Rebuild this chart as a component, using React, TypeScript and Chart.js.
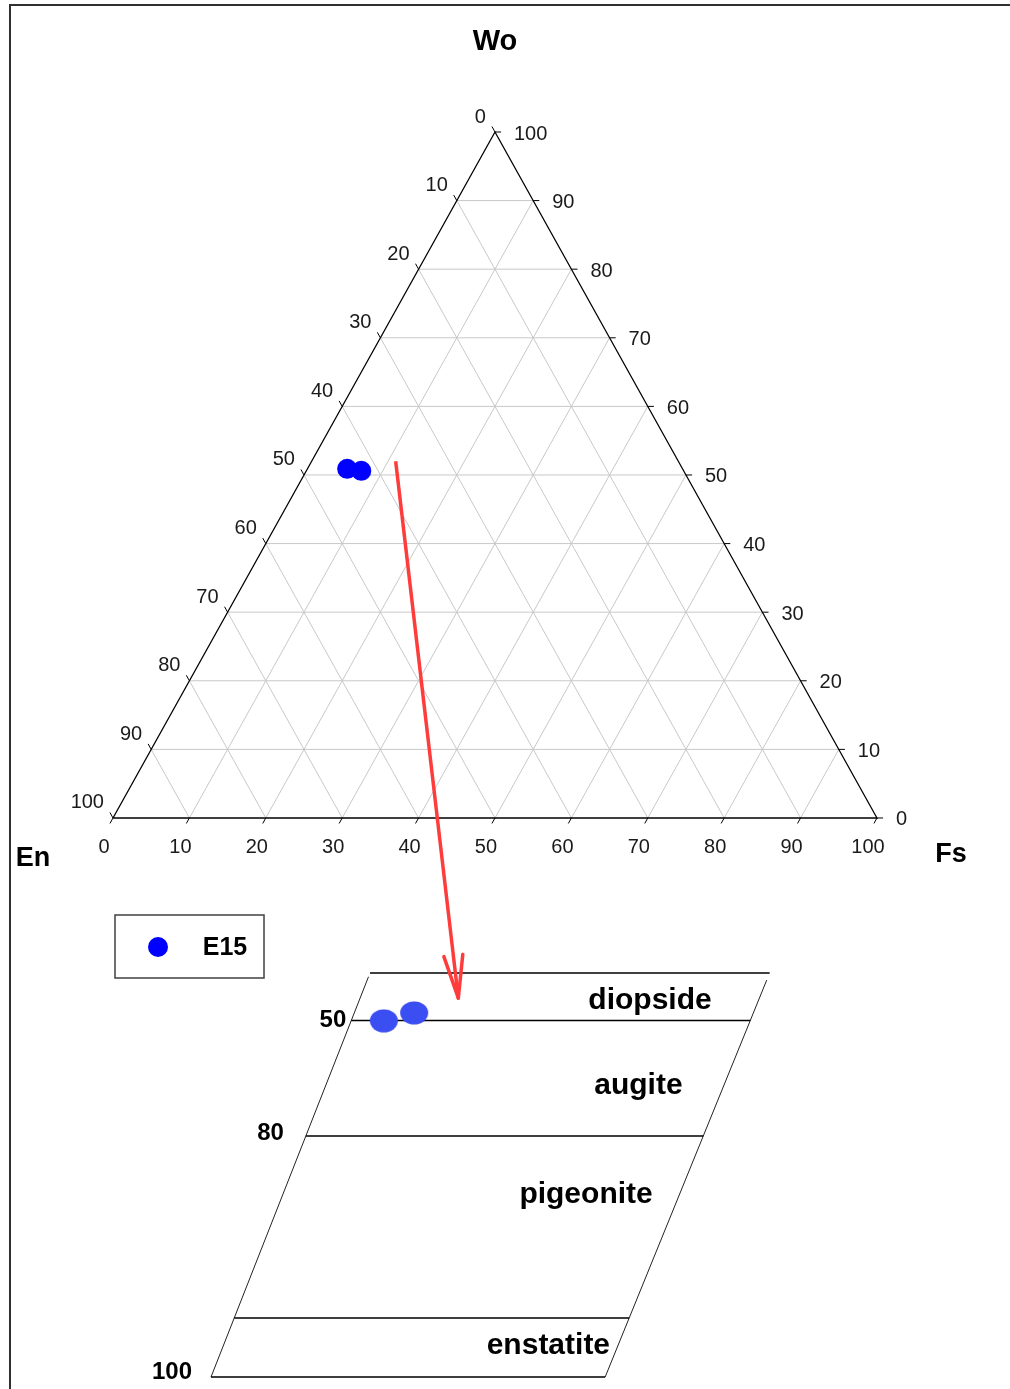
import React, { useEffect, useRef } from 'react';
import { Chart, registerables } from 'chart.js';
Chart.register(...registerables);

// ---------- data ----------
const sampleName = 'E15';
const sampleWo = [50.9, 50.6];
const sampleEn = [43.9, 42.2];
const sampleFs = [5.2, 7.2];

const tickValues = [0, 10, 20, 30, 40, 50, 60, 70, 80, 90, 100];
const gridValues = [10, 20, 30, 40, 50, 60, 70, 80, 90];
const axisTitles = ['Wo', 'En', 'Fs'];

// detail (pyroxene quadrilateral) panel
const detailLevels = [40, 50, 80, 95, 100];
const detailLevelLabels = ['', '50', '80', '', '100'];
const mineralNames = ['diopside', 'augite', 'pigeonite', 'enstatite'];
const mineralLevels = [45.5, 66.5, 84.7, 97.2];
const mineralFracs = [72.7, 78.4, 76.3, 82.2];
const detailSampleLevels = [50.1, 48.4];
const detailSampleFracs = [8.2, 15.0];

// arrow from ternary to detail panel
const arrowFrom = { wo: 52, fs: 11 };
const arrowTo = { level: 45.3, frac: 24.6 };

// ---------- layout ----------
const W = 1010;
const H = 1389;
const X_MIN = -14.79;
const X_MAX = 117.41;
const Y_MIN = -83.24;
const Y_MAX = 119.24;
const DETAIL_Y = [-22.59, -29.52, -46.36, -72.89, -81.49];
const DETAIL_LEFT = [33.64, 12.83];
const DETAIL_RIGHT = [85.95, 64.42];
const DETAIL_LABEL_GAP = [0, 5, 22, 0, 19];
const DETAIL_LABEL_DY = [0, 0, -3, 0, -5];
const FONT = '"Liberation Sans", Arial, sans-serif';

const tern = (wo: number, fs: number) => ({ x: fs + wo / 2, y: wo });

const detailY = (level: number) => {
  for (let i = 0; i < detailLevels.length - 1; i++) {
    const a = detailLevels[i], b = detailLevels[i + 1];
    if (level <= b || i === detailLevels.length - 2) {
      const t = (level - a) / (b - a);
      return DETAIL_Y[i] + (DETAIL_Y[i + 1] - DETAIL_Y[i]) * t;
    }
  }
  return DETAIL_Y[0];
};
const detailPt = (level: number, frac: number) => {
  const y = detailY(level);
  const t = (y - DETAIL_Y[0]) / (DETAIL_Y[DETAIL_Y.length - 1] - DETAIL_Y[0]);
  const l = DETAIL_LEFT[0] + (DETAIL_LEFT[1] - DETAIL_LEFT[0]) * t;
  const r = DETAIL_RIGHT[0] + (DETAIL_RIGHT[1] - DETAIL_RIGHT[0]) * t;
  return { x: l + ((r - l) * frac) / 100, y };
};

const GAP = { x: null as any, y: null as any };

export default function App() {
  const ref = useRef<HTMLCanvasElement | null>(null);

  useEffect(() => {
    document.body.style.margin = '0';
    const canvas = ref.current!;

    const grid: any[] = [];
    gridValues.forEach((v) => {
      grid.push(tern(v, 0), tern(v, 100 - v), GAP);
      grid.push(tern(0, v), tern(100 - v, v), GAP);
      grid.push(tern(0, 100 - v), tern(100 - v, 0), GAP);
    });
    const edges = [tern(0, 0), tern(0, 100), tern(100, 0), tern(0, 0)];
    const ticks: any[] = [];
    tickValues.forEach((v) => {
      const b = tern(0, v);
      ticks.push(b, { x: b.x - 0.4, y: b.y - 0.8 }, GAP);
      const l = tern(100 - v, 0);
      ticks.push(l, { x: l.x - 0.4, y: l.y + 0.8 }, GAP);
      const r = tern(v, 100 - v);
      ticks.push(r, { x: r.x + 0.8, y: r.y }, GAP);
    });
    const detailLines: any[] = [];
    detailLevels.forEach((lv) => {
      detailLines.push(detailPt(lv, 0), detailPt(lv, 100), GAP);
    });
    const first = detailLevels[0], last = detailLevels[detailLevels.length - 1];
    const detailEdges = [detailPt(first + 0.8, 0), detailPt(last, 0), GAP, detailPt(first + 1.5, 100), detailPt(last, 100)];
    const arrow = [tern(arrowFrom.wo, arrowFrom.fs), detailPt(arrowTo.level, arrowTo.frac)];
    const samples = sampleWo.map((wo, i) => tern(wo, sampleFs[i]));
    const detailSamples = detailSampleLevels.map((lv, i) => detailPt(lv, detailSampleFracs[i]));

    const ell = document.createElement('canvas');
    ell.width = 30;
    ell.height = 24;
    const ec = ell.getContext('2d')!;
    ec.fillStyle = '#3b4ef2';
    ec.beginPath();
    ec.ellipse(15, 12, 14, 11.5, 0, 0, Math.PI * 2);
    ec.fill();

    const lineDs = (data: any[], color: string, width: number, order: number) => ({
      data,
      showLine: true,
      borderColor: color,
      borderWidth: width,
      pointRadius: 0,
      pointHoverRadius: 0,
      spanGaps: false,
      fill: false,
      order,
    });

    const decor = {
      id: 'decor',
      afterDatasetsDraw(chart: any) {
        const ctx = chart.ctx;
        const xs = chart.scales.x, ys = chart.scales.y;
        const px = (p: { x: number; y: number }) => ({ x: xs.getPixelForValue(p.x), y: ys.getPixelForValue(p.y) });
        ctx.save();
        // frame
        ctx.strokeStyle = '#303030';
        ctx.lineWidth = 2;
        ctx.beginPath();
        ctx.moveTo(9, 5);
        ctx.lineTo(W, 5);
        ctx.moveTo(10, 4);
        ctx.lineTo(10, H);
        ctx.stroke();

        // arrowhead
        const meta = chart.getDatasetMeta(3);
        const a0 = meta.data[0], a1 = meta.data[1];
        const dx = a0.x - a1.x, dy = a0.y - a1.y;
        const len = Math.hypot(dx, dy);
        const ux = dx / len, uy = dy / len;
        const ang = (12.5 * Math.PI) / 180;
        ctx.strokeStyle = '#ff3c3c';
        ctx.lineWidth = 3.5;
        ctx.lineCap = 'round';
        [ang, -ang].forEach((t) => {
          const rx = ux * Math.cos(t) - uy * Math.sin(t);
          const ry = ux * Math.sin(t) + uy * Math.cos(t);
          ctx.beginPath();
          ctx.moveTo(a1.x, a1.y);
          ctx.lineTo(a1.x + rx * 44, a1.y + ry * 44);
          ctx.stroke();
        });

        // tick labels
        ctx.fillStyle = '#1a1a1a';
        ctx.font = `20px ${FONT}`;
        ctx.textBaseline = 'middle';
        tickValues.forEach((v) => {
          const b = px(tern(0, v));
          ctx.textAlign = 'center';
          ctx.fillText(String(v), b.x - 9, b.y + 30);
          const l = px(tern(100 - v, 0));
          ctx.textAlign = 'right';
          ctx.fillText(String(v), l.x - 9, l.y - 15);
          const r = px(tern(v, 100 - v));
          ctx.textAlign = 'left';
          ctx.fillText(String(v), r.x + 19, r.y + 2);
        });

        // axis titles
        ctx.fillStyle = '#000';
        ctx.textAlign = 'center';
        const apex = px(tern(100, 0));
        const enC = px(tern(0, 0));
        const fsC = px(tern(0, 100));
        ctx.font = `bold 29px ${FONT}`;
        ctx.fillText(axisTitles[0], apex.x, apex.y - 90);
        ctx.font = `bold 27px ${FONT}`;
        ctx.fillText(axisTitles[1], enC.x - 80, enC.y + 41);
        ctx.fillText(axisTitles[2], fsC.x + 74, fsC.y + 37);

        // detail labels
        ctx.font = `bold 24px ${FONT}`;
        ctx.textAlign = 'right';
        detailLevels.forEach((lv, i) => {
          if (!detailLevelLabels[i]) return;
          const p = px(detailPt(lv, 0));
          ctx.fillText(detailLevelLabels[i], p.x - DETAIL_LABEL_GAP[i], p.y + DETAIL_LABEL_DY[i]);
        });
        ctx.font = `bold 30px ${FONT}`;
        ctx.textAlign = 'center';
        mineralNames.forEach((n, i) => {
          const p = px(detailPt(mineralLevels[i], mineralFracs[i]));
          ctx.fillText(n, p.x, p.y + 2);
        });

        // legend
        ctx.strokeStyle = '#404040';
        ctx.lineWidth = 1.5;
        ctx.strokeRect(115, 915, 149, 63);
        ctx.fillStyle = '#0000ff';
        ctx.beginPath();
        ctx.arc(158, 947, 10, 0, Math.PI * 2);
        ctx.fill();
        ctx.fillStyle = '#000';
        ctx.font = `bold 25px ${FONT}`;
        ctx.fillText(sampleName, 225, 948);
        ctx.restore();
      },
    };

    const chart = new Chart(canvas, {
      type: 'scatter',
      data: {
        datasets: [
          lineDs(grid, '#c8c8c8', 1, 10),
          lineDs(edges, '#000000', 1.3, 9),
          lineDs(ticks, '#000000', 1, 8),
          lineDs(arrow, '#ff3c3c', 3.5, 5),
          lineDs(detailLines, '#000000', 1.5, 7),
          lineDs(detailEdges, '#222222', 1, 7),
          {
            label: sampleName,
            data: samples,
            pointRadius: 10,
            pointHoverRadius: 10,
            backgroundColor: '#0000ff',
            borderWidth: 0,
            order: 1,
          } as any,
          {
            label: sampleName + ' detail',
            data: detailSamples,
            pointStyle: ell,
            pointRadius: 12,
            backgroundColor: '#3b4ef2',
            borderWidth: 0,
            order: 1,
          } as any,
        ],
      },
      options: {
        responsive: false,
        animation: false,
        events: [],
        layout: { padding: 0, autoPadding: false },
        plugins: { legend: { display: false }, tooltip: { enabled: false } },
        scales: {
          x: { type: 'linear', min: X_MIN, max: X_MAX, display: false },
          y: { type: 'linear', min: Y_MIN, max: Y_MAX, display: false },
        },
      },
      plugins: [decor],
    });
    return () => chart.destroy();
  }, []);

  return <canvas ref={ref} width={W} height={H} style={{ display: 'block' }} />;
}
